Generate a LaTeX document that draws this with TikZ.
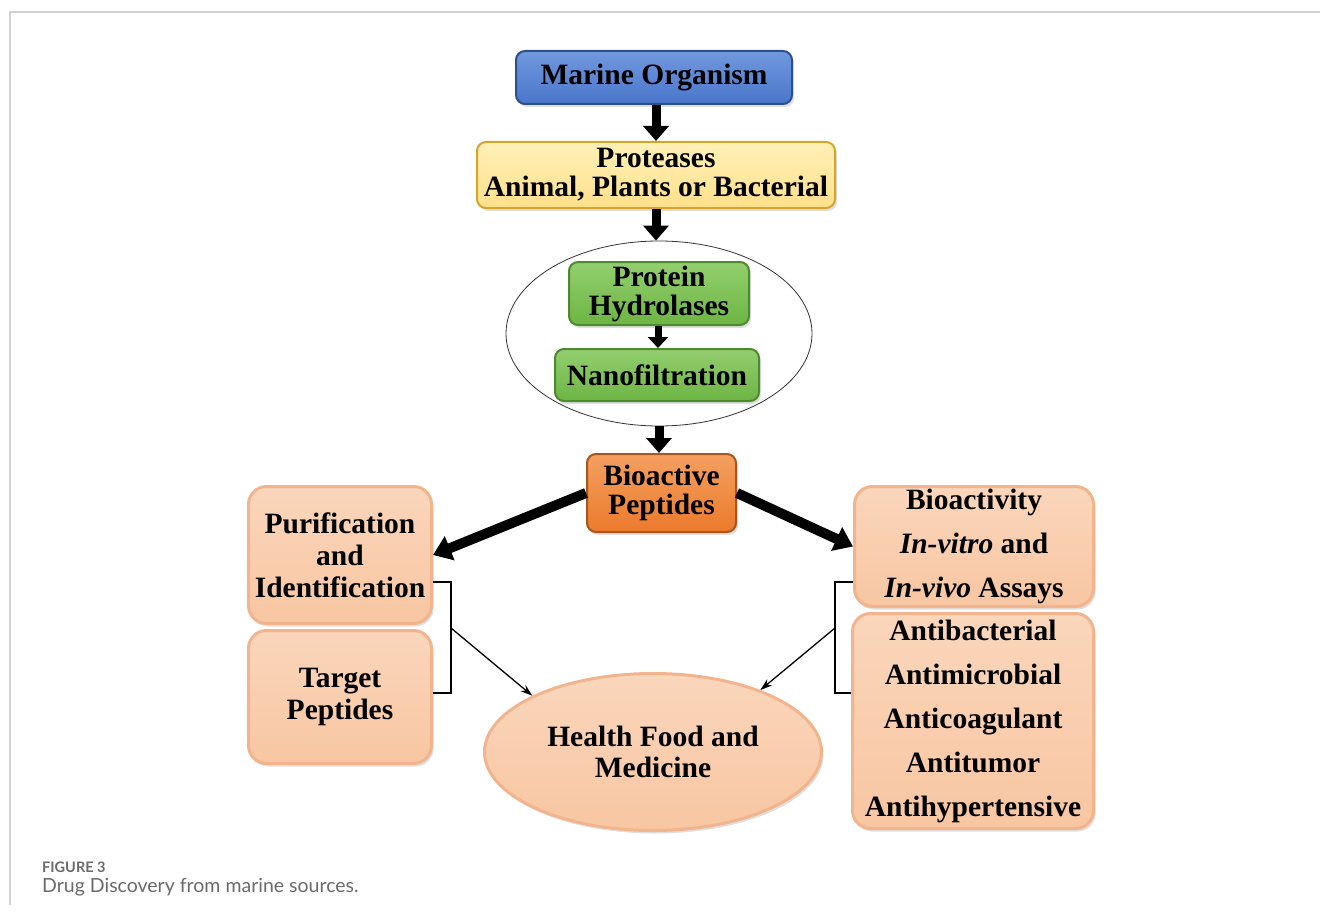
\documentclass[tikz,border=0pt]{standalone}
\usepackage{fontspec}
\setmainfont{Liberation Serif}
\newfontfamily\capfont{Lato}
\usetikzlibrary{arrows.meta,shapes.geometric,shadows}
\definecolor{mblue}{HTML}{4A76CC}
\definecolor{mbluet}{HTML}{7099DD}
\definecolor{mblueb}{HTML}{2E4F8E}
\definecolor{myel}{HTML}{FFE08A}
\definecolor{myelt}{HTML}{FFF0B8}
\definecolor{myelb}{HTML}{D4A52A}
\definecolor{mgrn}{HTML}{6DB544}
\definecolor{mgrnt}{HTML}{93CF6E}
\definecolor{mgrnb}{HTML}{4C8A2E}
\definecolor{morg}{HTML}{EC7A2C}
\definecolor{morgt}{HTML}{F4A060}
\definecolor{morgb}{HTML}{A8561C}
\definecolor{mpch}{HTML}{F8C6A2}
\definecolor{mpcht}{HTML}{FAD6BB}
\definecolor{mpchb}{HTML}{F2B48C}
\definecolor{capgray}{HTML}{6A6A6A}
\definecolor{framegray}{HTML}{D2D2D2}
\tikzset{
  box/.style={rounded corners=9pt, align=center, inner sep=0pt,
    font=\fontsize{29.5}{29}\selectfont\bfseries,
    drop shadow={opacity=0.25, shadow xshift=2pt, shadow yshift=-3pt}},
  bluebox/.style={box, top color=mbluet, bottom color=mblue, draw=mblueb, line width=2pt},
  yelbox/.style={box, top color=myelt, bottom color=myel, draw=myelb, line width=2pt},
  grnbox/.style={box, top color=mgrnt, bottom color=mgrn, draw=mgrnb, line width=2pt},
  orgbox/.style={box, top color=morgt, bottom color=morg, draw=morgb, line width=2pt},
  pchbox/.style={box, rounded corners=18pt, top color=mpcht, bottom color=mpch, draw=mpchb, line width=3pt},
  blockarrow/.style={line width=9pt, -{Triangle[width=25pt,length=15pt]}},
  smallblock/.style={line width=7pt, -{Triangle[width=20pt,length=11pt]}},
  thickarrow/.style={line width=10pt, -{Triangle[width=25pt,length=18pt]}},
  thinarrow/.style={line width=1.3pt, -{Stealth[length=12pt,width=8pt]}},
  bracket/.style={line width=1.5pt},
}
\begin{document}
\begin{tikzpicture}[x=1pt,y=-1pt]
\useasboundingbox (0,0) rectangle (1320,915);
% frame
\draw[framegray, line width=1.5pt] (1320,12) -- (10,12) -- (10,905);

% nodes
\node[bluebox, minimum width=276pt, minimum height=53pt] (mo) at (654,77.5) {Marine Organism};
\node[yelbox, minimum width=358pt, minimum height=66pt] (pr) at (656,175) {Proteases\\Animal, Plants or Bacterial};
\node[ellipse, draw=black!80, line width=0.8pt, minimum width=306pt, minimum height=185pt] (ell) at (659,333.5) {};
\node[grnbox, minimum width=180pt, minimum height=63pt] (ph) at (659,293.5) {Protein\\Hydrolases};
\node[grnbox, minimum width=204pt, minimum height=52pt] (nf) at (657,375) {Nanofiltration};
\node[orgbox, minimum width=149pt, minimum height=78pt] (bp) at (661.5,493) {Bioactive\\Peptides};
\node[pchbox, minimum width=183pt, minimum height=137pt, font=\fontsize{29.5}{32}\selectfont\bfseries] (pi) at (340,555) {Purification\\and\\Identification};
\node[pchbox, minimum width=183pt, minimum height=133pt, font=\fontsize{29.5}{32}\selectfont\bfseries] (tp) at (340,697) {Target\\Peptides};
\node[ellipse, top color=mpcht, bottom color=mpch, draw=mpchb, line width=3pt,
  minimum width=337pt, minimum height=157pt, align=center, inner sep=0pt,
  font=\fontsize{29.5}{31}\selectfont\bfseries,
  drop shadow={opacity=0.25, shadow xshift=2pt, shadow yshift=-3pt}] (hf) at (653,752) {Health Food and\\Medicine};
\node[pchbox, minimum width=239pt, minimum height=120pt, font=\fontsize{29.5}{44}\selectfont\bfseries] (ba) at (974,546.5) {Bioactivity\\\textit{In-vitro} and\\\textit{In-vivo} Assays};
\node[pchbox, minimum width=241pt, minimum height=215pt, font=\fontsize{29.5}{44}\selectfont\bfseries] (ab) at (973,721) {Antibacterial\\Antimicrobial\\Anticoagulant\\Antitumor\\Antihypertensive};

% block arrows
\coordinate (a1) at (656,0);
\coordinate (a2) at (656,0);
\coordinate (a3) at (658,0);
\coordinate (a4) at (659,0);
\draw[blockarrow] (a1 |- mo.south) -- (a1 |- pr.north);
\draw[blockarrow] (a2 |- pr.south) -- (a2 |- ell.north);
\draw[smallblock] (a3 |- ph.south) -- (a3 |- nf.north);
\draw[blockarrow] (a4 |- ell.south) -- (a4 |- bp.north);
\draw[thickarrow] (bp.west) -- (pi.east);
\draw[thickarrow] (bp.east) -- (ba.west);

% brackets
\coordinate (lb1) at (451,582);
\coordinate (lb2) at (451,693);
\coordinate (lbm) at (451,628);
\coordinate (rb1) at (835,582);
\coordinate (rb2) at (835,693);
\coordinate (rbm) at (835,628);
\draw[bracket] (lb1 -| pi.east) -- (lb1) -- (lb2) -- (lb2 -| tp.east);
\draw[bracket] (rb1 -| ba.west) -- (rb1) -- (rb2) -- (rb2 -| ab.west);
\draw[thinarrow] (lbm) -- (hf.155);
\draw[thinarrow] (rbm) -- (hf.30);

% caption
\node[anchor=base west, inner sep=0pt, text=capgray, font=\capfont\fontsize{14.5}{16}\selectfont\bfseries] (figlab) at (42,872) {FIGURE 3};
\node[anchor=base west, inner sep=0pt, text=capgray, font=\capfont\fontsize{19.5}{21}\selectfont] (figcap) at (42,892) {Drug Discovery from marine sources.};
\end{tikzpicture}
\end{document}
